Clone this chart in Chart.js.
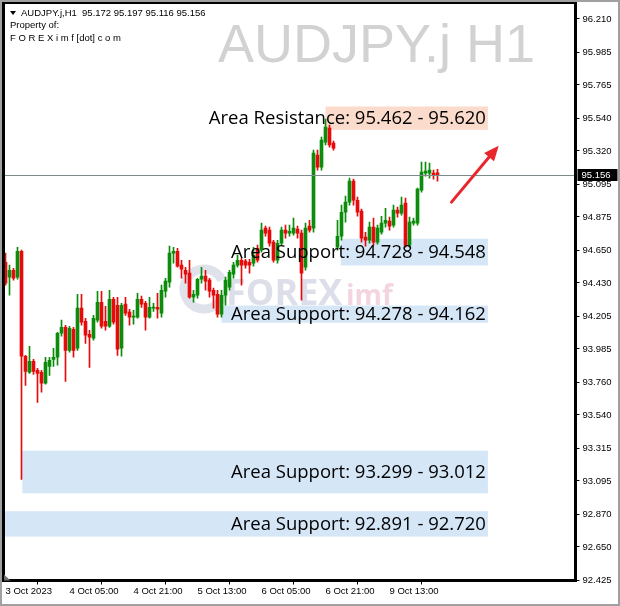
<!DOCTYPE html>
<html>
<head>
<meta charset="utf-8">
<script src="https://cdn.jsdelivr.net/npm/chart.js@4.4.0/dist/chart.umd.min.js"></script>
<style>
html,body{margin:0;padding:0;background:#fff;}
canvas{display:block;}
</style>
</head>
<body>
<canvas id="audChart" width="620" height="606"></canvas>
<script>
// AUDJPY.j H1, bars from 3 Oct 13:00 onwards
var opens = [94.570, 94.469, 94.516, 94.469, 94.644, 93.936, 93.828, 93.902, 93.841, 93.828,
  93.754, 93.868, 93.915, 93.929, 94.091, 94.131, 93.976, 94.118, 93.990, 94.260,
  94.172, 94.084, 94.057, 94.179, 94.300, 94.172, 94.138, 94.320, 94.280, 93.990,
  94.287, 94.233, 94.199, 94.199, 94.320, 94.293, 94.199, 94.260, 94.266, 94.226,
  94.374, 94.435, 94.631, 94.644, 94.550, 94.516, 94.496, 94.334, 94.347, 94.455,
  94.476, 94.449, 94.381, 94.354, 94.219, 94.347, 94.401, 94.489, 94.550, 94.583,
  94.577, 94.570, 94.563, 94.664, 94.651, 94.800, 94.786, 94.705, 94.583, 94.698,
  94.786, 94.766, 94.766, 94.793, 94.766, 94.536, 94.813, 94.800, 95.292, 95.211,
  95.380, 95.474, 95.373, 94.671, 94.745, 94.907, 94.975, 95.117, 94.988, 94.914,
  94.739, 94.718, 94.806, 94.705, 94.772, 94.833, 94.847, 94.820, 94.921, 94.901,
  94.968, 94.685, 94.833, 94.833, 95.056, 95.171, 95.171, 95.171, 95.172];
var highs = [94.631, 94.550, 94.529, 94.671, 94.651, 93.942, 94.003, 93.915, 93.855, 93.841,
  93.929, 93.929, 93.990, 94.098, 94.179, 94.145, 94.138, 94.131, 94.354, 94.354,
  94.192, 94.111, 94.212, 94.374, 94.374, 94.273, 94.381, 94.334, 94.334, 94.293,
  94.334, 94.253, 94.246, 94.361, 94.341, 94.307, 94.334, 94.293, 94.361, 94.415,
  94.462, 94.678, 94.671, 94.664, 94.583, 94.536, 94.583, 94.381, 94.462, 94.536,
  94.516, 94.462, 94.395, 94.381, 94.381, 94.469, 94.516, 94.570, 94.617, 94.597,
  94.590, 94.590, 94.671, 94.685, 94.833, 94.813, 94.806, 94.718, 94.718, 94.806,
  94.820, 94.820, 94.867, 94.813, 94.786, 94.833, 94.853, 95.326, 95.326, 95.414,
  95.535, 95.495, 95.387, 94.853, 94.955, 95.015, 95.137, 95.130, 95.009, 94.928,
  94.772, 94.840, 94.867, 94.820, 94.880, 94.934, 94.874, 94.955, 94.941, 95.009,
  95.002, 94.874, 94.867, 95.069, 95.245, 95.245, 95.238, 95.191, 95.197];
var lows = [94.415, 94.347, 94.449, 94.455, 93.106, 93.740, 93.821, 93.814, 93.625, 93.693,
  93.747, 93.807, 93.868, 93.875, 94.071, 93.767, 93.963, 93.929, 93.976, 94.145,
  94.023, 93.861, 94.044, 94.165, 94.125, 94.111, 94.131, 94.152, 93.942, 93.936,
  94.212, 94.145, 94.152, 94.192, 94.266, 94.111, 94.192, 94.239, 94.192, 94.199,
  94.334, 94.401, 94.563, 94.536, 94.462, 94.428, 94.327, 94.300, 94.327, 94.428,
  94.381, 94.334, 94.260, 94.199, 94.199, 94.280, 94.381, 94.462, 94.536, 94.415,
  94.529, 94.496, 94.543, 94.570, 94.637, 94.745, 94.678, 94.570, 94.563, 94.685,
  94.732, 94.745, 94.752, 94.732, 94.314, 94.516, 94.772, 94.772, 95.191, 95.191,
  95.360, 95.346, 95.326, 94.651, 94.718, 94.840, 94.955, 94.955, 94.880, 94.705,
  94.678, 94.698, 94.685, 94.691, 94.759, 94.806, 94.786, 94.806, 94.874, 94.887,
  94.671, 94.671, 94.820, 94.820, 95.042, 95.150, 95.137, 95.130, 95.116];
var closes = [94.428, 94.516, 94.462, 94.644, 93.936, 93.834, 93.902, 93.834, 93.821, 93.754,
  93.895, 93.909, 93.929, 94.091, 94.131, 93.976, 94.125, 93.976, 94.260, 94.165,
  94.078, 94.064, 94.192, 94.300, 94.138, 94.138, 94.320, 94.165, 93.983, 94.280,
  94.226, 94.199, 94.206, 94.320, 94.287, 94.199, 94.266, 94.266, 94.253, 94.381,
  94.442, 94.631, 94.644, 94.543, 94.523, 94.489, 94.334, 94.354, 94.455, 94.476,
  94.442, 94.374, 94.347, 94.219, 94.347, 94.449, 94.502, 94.550, 94.583, 94.550,
  94.550, 94.550, 94.617, 94.583, 94.786, 94.766, 94.698, 94.583, 94.698, 94.786,
  94.766, 94.779, 94.800, 94.766, 94.496, 94.800, 94.786, 95.306, 95.211, 95.393,
  95.481, 95.360, 95.339, 94.745, 94.907, 94.975, 95.117, 94.988, 94.907, 94.732,
  94.718, 94.806, 94.705, 94.800, 94.833, 94.853, 94.813, 94.921, 94.901, 94.955,
  94.685, 94.840, 94.847, 95.063, 95.177, 95.184, 95.191, 95.157, 95.156];

var xTickIdx = [0, 16, 32, 48, 64, 80, 96];
var xTickText = ['3 Oct 2023', '4 Oct 05:00', '4 Oct 21:00', '5 Oct 13:00', '6 Oct 05:00', '6 Oct 21:00', '9 Oct 13:00'];
var yTicks = [96.210, 95.985, 95.765, 95.540, 95.320, 95.095, 94.875, 94.650, 94.430,
  94.205, 93.985, 93.760, 93.540, 93.315, 93.095, 92.870, 92.650, 92.425];

// zones: name, low/high as written, bar index where the box starts
var zoneNames = ['Area Resistance', 'Area Support', 'Area Support', 'Area Support', 'Area Support'];
var zoneA = [95.462, 94.728, 94.278, 93.299, 92.891];
var zoneB = [95.620, 94.548, 94.162, 93.012, 92.720];
var zoneFrom = [80, 83.8, 54, 4.2, -0.1];
var zoneTo = 120.6;
var lastPrice = 95.156;
var slotCount = 143;

var slots = [];
for (var i = 0; i < slotCount; i++) slots.push(i);

var bull = '#0b8c0b', bear = '#e60a0a';
var candleColors = opens.map(function (o, i) { return closes[i] >= o ? bull : bear; });
var bodies = opens.map(function (o, i) { return [Math.min(o, closes[i]), Math.max(o, closes[i])]; });
var wicks = lows.map(function (l, i) { return [l, highs[i]]; });

var tahoma = '"Liberation Sans", Arial, sans-serif';

var overlay = {
  id: 'overlay',
  beforeDatasetsDraw: function (chart) {
    var ctx = chart.ctx, xs = chart.scales.x, ys = chart.scales.y;
    ctx.save();
    // big symbol watermark
    ctx.fillStyle = '#d2d2d2';
    ctx.font = '54px ' + tahoma;
    ctx.textAlign = 'right';
    ctx.textBaseline = 'alphabetic';
    ctx.fillText('AUDJPY.j H1', 535, 62);

    // FOREXimf logo watermark
    ctx.strokeStyle = 'rgba(150,158,190,0.3)';
    ctx.lineWidth = 9;
    ctx.beginPath();
    ctx.arc(204, 289, 20, 0.3, Math.PI * 1.85);
    ctx.stroke();
    ctx.fillStyle = 'rgba(150,158,190,0.33)';
    ctx.font = 'bold 36px "Open Sans", sans-serif';
    ctx.textAlign = 'left';
    ctx.fillText('FOREX', 226, 305);
    ctx.fillStyle = 'rgba(225,150,180,0.4)';
    ctx.font = 'bold 28px "Open Sans", sans-serif';
    ctx.fillText('imf', 346, 305);

    // zone boxes
    for (var k = 0; k < zoneA.length; k++) {
      var x0 = xs.getPixelForValue(zoneFrom[k]);
      var x1 = xs.getPixelForValue(zoneTo);
      var y0 = ys.getPixelForValue(Math.max(zoneA[k], zoneB[k]));
      var y1 = ys.getPixelForValue(Math.min(zoneA[k], zoneB[k]));
      ctx.fillStyle = k === 0 ? '#fbdccc' : '#d5e6f7';
      ctx.fillRect(x0, y0, x1 - x0, y1 - y0);
    }
    ctx.restore();
  },
  afterDatasetsDraw: function (chart) {
    var ctx = chart.ctx, xs = chart.scales.x, ys = chart.scales.y, a = chart.chartArea;
    ctx.save();

    // current price line
    var py = Math.round(ys.getPixelForValue(lastPrice)) + 0.5;
    ctx.strokeStyle = '#7b8a8a';
    ctx.lineWidth = 1;
    ctx.beginPath();
    ctx.moveTo(a.left, py);
    ctx.lineTo(a.right, py);
    ctx.stroke();

    // zone captions
    ctx.fillStyle = '#000';
    ctx.font = '18.5px "Open Sans", sans-serif';
    ctx.textAlign = 'right';
    ctx.textBaseline = 'middle';
    for (var k = 0; k < zoneA.length; k++) {
      var yc = (ys.getPixelForValue(zoneA[k]) + ys.getPixelForValue(zoneB[k])) / 2;
      ctx.fillText(zoneNames[k] + ': ' + zoneA[k].toFixed(3) + ' - ' + zoneB[k].toFixed(3),
        xs.getPixelForValue(zoneTo) - 2, yc + 1);
    }

    // red arrow
    var ax0 = xs.getPixelForValue(111.5), ay0 = ys.getPixelForValue(94.975);
    var ax1 = xs.getPixelForValue(123.3), ay1 = ys.getPixelForValue(95.356);
    var ang = Math.atan2(ay1 - ay0, ax1 - ax0);
    ctx.strokeStyle = '#e8262b';
    ctx.fillStyle = '#e8262b';
    ctx.lineWidth = 3;
    ctx.lineCap = 'round';
    ctx.beginPath();
    ctx.moveTo(ax0, ay0);
    ctx.lineTo(ax1 - 10 * Math.cos(ang), ay1 - 10 * Math.sin(ang));
    ctx.stroke();
    ctx.beginPath();
    ctx.moveTo(ax1, ay1);
    ctx.lineTo(ax1 - 15 * Math.cos(ang) + 6.5 * Math.sin(ang), ay1 - 15 * Math.sin(ang) - 6.5 * Math.cos(ang));
    ctx.lineTo(ax1 - 15 * Math.cos(ang) - 6.5 * Math.sin(ang), ay1 - 15 * Math.sin(ang) + 6.5 * Math.cos(ang));
    ctx.closePath();
    ctx.fill();

    // header
    ctx.fillStyle = '#000';
    ctx.beginPath();
    ctx.moveTo(10, 11); ctx.lineTo(16, 11); ctx.lineTo(13, 15); ctx.closePath();
    ctx.fill();
    ctx.font = '9.5px ' + tahoma;
    ctx.textAlign = 'left';
    ctx.textBaseline = 'middle';
    var n = opens.length - 1;
    ctx.fillText('AUDJPY.j,H1  ' + opens[n].toFixed(3) + ' ' + highs[n].toFixed(3) + ' ' +
      lows[n].toFixed(3) + ' ' + closes[n].toFixed(3), 21, 13);
    ctx.fillText('Property of:', 10, 25.5);
    ctx.fillText('F O R E X i m f [dot] c o m', 10, 38);

    // chart frame
    ctx.strokeStyle = '#000';
    ctx.strokeRect(a.left, a.top, a.right - a.left, a.bottom - a.top);

    // chart shift marker
    ctx.fillStyle = '#707070';
    ctx.beginPath();
    ctx.moveTo(a.left + 0.5, a.bottom - 6); ctx.lineTo(a.left + 0.5, a.bottom); ctx.lineTo(a.left + 7, a.bottom);
    ctx.closePath();
    ctx.fill();

    // price tag on the axis
    ctx.fillStyle = '#000';
    ctx.fillRect(a.right + 2, py - 6.5, 40, 12);
    ctx.fillStyle = '#fff';
    ctx.font = '9.5px ' + tahoma;
    ctx.fillText(lastPrice.toFixed(3), a.right + 6, py);

    // window border
    ctx.strokeStyle = '#a0a0a0';
    ctx.strokeRect(0.5, 0.5, chart.width - 1, chart.height - 1);
    ctx.restore();
  }
};

var audChart = new Chart(document.getElementById('audChart').getContext('2d'), {
  type: 'bar',
  data: {
    labels: slots,
    datasets: [{
      label: 'body',
      data: bodies,
      backgroundColor: candleColors,
      barThickness: 3,
      minBarLength: 1,
      grouped: false,
      order: 0
    }, {
      label: 'wick',
      data: wicks,
      backgroundColor: candleColors,
      barThickness: 1,
      grouped: false,
      order: 1
    }]
  },
  options: {
    responsive: false,
    animation: false,
    layout: { padding: { left: 3.5, top: 2.5, right: 0, bottom: 0 } },
    plugins: { legend: { display: false }, tooltip: { enabled: false } },
    scales: {
      x: {
        offset: true,
        afterBuildTicks: function (s) { s.ticks = xTickIdx.map(function (v) { return { value: v }; }); },
        afterFit: function (s) { s.height = 25.5; s.paddingLeft = 0; s.paddingRight = 0; },
        grid: { display: true, drawOnChartArea: false, tickLength: 4, color: '#000' },
        border: { display: true, color: '#000' },
        ticks: {
          autoSkip: false, maxRotation: 0, minRotation: 0, align: 'start', padding: 1,
          color: '#000', font: { family: tahoma, size: 9.5 },
          callback: function (v) { return xTickText[xTickIdx.indexOf(v)]; }
        }
      },
      y: {
        position: 'right',
        min: 92.424,
        max: 96.321,
        afterBuildTicks: function (s) { s.ticks = yTicks.map(function (v) { return { value: v }; }); },
        afterFit: function (s) { s.width = 44.5; s.paddingTop = 0; s.paddingBottom = 0; },
        grid: { display: true, drawOnChartArea: false, tickLength: 4, color: '#000' },
        border: { display: true, color: '#000' },
        ticks: {
          padding: 3, color: '#000', font: { family: tahoma, size: 9.5 },
          callback: function (v) { return v.toFixed(3); }
        }
      }
    }
  },
  plugins: [overlay]
});
</script>
</body>
</html>
